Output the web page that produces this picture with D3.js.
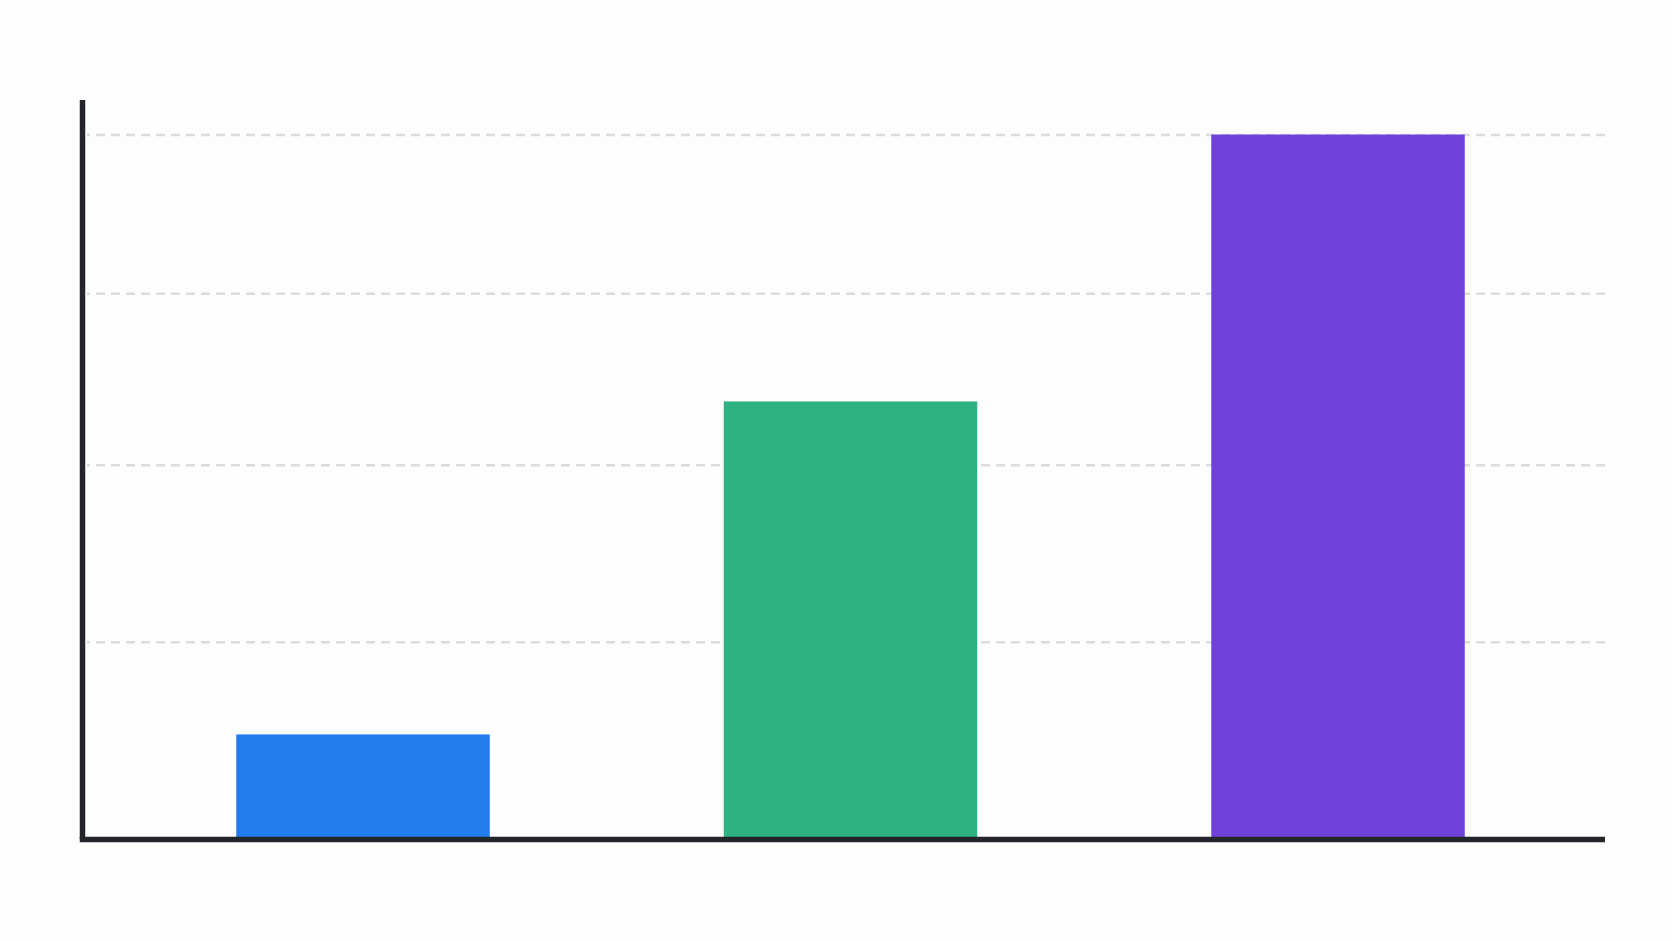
<html lang="en">
<head>
    <meta charset="UTF-8">
    <title>Bar chart</title>
    <script src="https://d3js.org/d3.v7.min.js"></script>
    <style>
        body {
            margin: 0;
            background-color: #fdfdfd;
        }
        svg {
            display: block;
        }
        .grid line {
            stroke: #dcdcdc;
            stroke-width: 2.5;
            stroke-dasharray: 9 6;
        }
    </style>
</head>
<body>
    <script>
        // values (no labels shown in the original)
        const categories = ['A', 'B', 'C'];
        const values = [14.6, 62, 100];
        const colors = ['#227cee', '#2eb282', '#6f40da'];
        const gridTicks = [27.8, 53, 77.4, 100];

        const w = 1672;
        const h = 941;
        const axisLeftX = 82.5;
        const axisRightX = 1605;
        const axisTopY = 100;

        const xScale = d3.scaleBand()
            .domain(categories)
            .range([90, 1611])
            .paddingInner(0.48)
            .paddingOuter(0.3);

        const yScale = d3.scaleLinear()
            .domain([0, 100])
            .range([837, 134.5]);

        const svg = d3.select('body')
            .append('svg')
            .attr('width', w)
            .attr('height', h);

        // dashed gridlines
        const grid = svg.append('g')
            .attr('class', 'grid')
            .attr('transform', 'translate(' + axisRightX + ',0)')
            .call(d3.axisLeft(yScale)
                .tickValues(gridTicks)
                .tickSize(axisRightX - 87)
                .tickFormat(''));
        grid.select('.domain').remove();

        svg.selectAll('rect.bar')
            .data(values)
            .enter()
            .append('rect')
            .attr('class', 'bar')
            .attr('x', (d, i) => xScale(categories[i]))
            .attr('y', d => yScale(d))
            .attr('width', xScale.bandwidth())
            .attr('height', d => yScale(0) - yScale(d))
            .style('fill', (d, i) => colors[i]);

        // axis lines
        svg.append('line')
            .attr('x1', axisLeftX)
            .attr('x2', axisLeftX)
            .attr('y1', axisTopY)
            .attr('y2', yScale(0) + 2)
            .attr('stroke', '#22262b')
            .attr('stroke-width', 5.5);

        svg.append('line')
            .attr('x1', axisLeftX - 2.75)
            .attr('x2', axisRightX)
            .attr('y1', yScale(0) + 2.5)
            .attr('y2', yScale(0) + 2.5)
            .attr('stroke', '#22262b')
            .attr('stroke-width', 5.5);
    </script>
</body>
</html>
